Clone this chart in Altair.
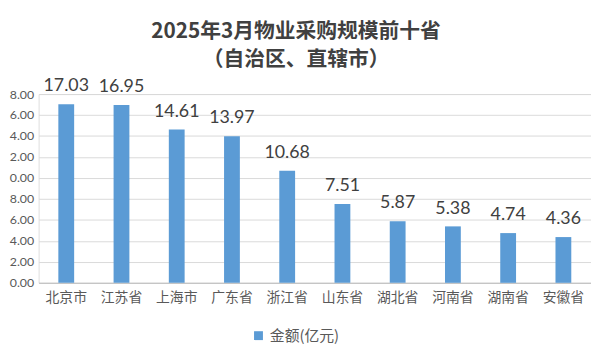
import altair as alt
import pandas as pd

provinces = ["北京市", "江苏省", "上海市", "广东省", "浙江省", "山东省", "湖北省", "河南省", "湖南省", "安徽省"]
amounts = [17.03, 16.95, 14.61, 13.97, 10.68, 7.51, 5.87, 5.38, 4.74, 4.36]
series_name = "金额(亿元)"
y_ticks = [0, 2, 4, 6, 8, 10, 12, 14, 16, 18]
title_lines = ["2025年3月物业采购规模前十省", "（自治区、直辖市）"]

df = pd.DataFrame({"省份": provinces, "金额": amounts, "系列": [series_name] * len(provinces)})

cjk = "Noto Sans CJK SC"
num_font = "Lato"
grey = "#595959"

x_enc = alt.X(
    "省份:N",
    sort=provinces,
    scale=alt.Scale(paddingInner=0.71, paddingOuter=0.355),
    axis=alt.Axis(
        title=None, labelAngle=0, labelFont=cjk, labelFontSize=14, labelColor=grey,
        labelPadding=8, ticks=False, domainColor="#bfbfbf", grid=False,
    ),
)
y_enc = alt.Y(
    "金额:Q",
    scale=alt.Scale(domain=[0, 18], nice=False),
    axis=alt.Axis(
        title=None, values=y_ticks, labelFont=num_font, labelFontSize=12.5, labelColor=grey,
        labelExpr="slice(format(datum.value, '.2f'), -4)", labelOverlap=False,
        labelSeparation=0, ticks=False, domain=False, gridColor="#d9d9d9", labelPadding=5,
    ),
)

bars = alt.Chart(df).mark_bar(size=16).encode(
    x=x_enc,
    y=y_enc,
    color=alt.Color(
        "系列:N",
        scale=alt.Scale(range=["#5b9bd5"]),
        legend=alt.Legend(
            title=None, orient="none", legendX=215, legendY=237,
            symbolType="square", symbolSize=81, symbolStrokeWidth=0,
            labelFont=cjk, labelFontSize=15, labelColor=grey,
        ),
    ),
)

labels = alt.Chart(df).mark_text(
    baseline="bottom", dy=-9, font=num_font, fontSize=18, color="#404040"
).encode(
    x=x_enc,
    y=y_enc,
    text=alt.Text("金额:Q", format=".2f"),
)

chart = (
    (bars + labels)
    .properties(
        width=559,
        height=191,
        autosize=alt.AutoSizeParams(type="none"),
        padding={"left": 31, "top": 85, "right": 0, "bottom": 72},
        title=alt.TitleParams(
            text=title_lines, font=cjk, fontSize=21, fontWeight="bold", color="#404040",
            anchor="middle", dx=-19, offset=8, lineHeight=28,
        ),
    )
    .configure_view(stroke=None)
    .configure(background="white")
)

chart.save("out.html", embed_options={"renderer": "svg", "actions": False})
